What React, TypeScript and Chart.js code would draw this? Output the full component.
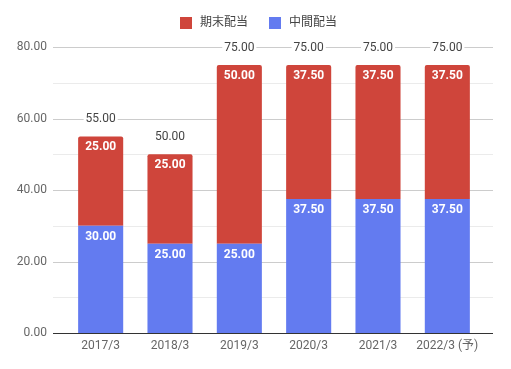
import React, { useEffect, useRef } from "react";
import { Chart, registerables } from "chart.js";

Chart.register(...registerables);

const categories = ["2017/3", "2018/3", "2019/3", "2020/3", "2021/3", "2022/3 (予)"];
const interim = [30, 25, 25, 37.5, 37.5, 37.5]; // 中間配当
const yearEnd = [25, 25, 50, 37.5, 37.5, 37.5]; // 期末配当
const yTicks = [0, 20, 40, 60, 80];

const RED = "#cf453b";
const BLUE = "#637bf0";
const FONT = "Roboto, 'Noto Sans CJK JP', sans-serif";

const gridPlugin = {
  id: "extGrid",
  beforeDatasetsDraw(chart: any) {
    const { ctx, chartArea, scales } = chart;
    const y = scales.y;
    const x0 = chartArea.left - 13;
    const x1 = chartArea.right + 11;
    ctx.save();
    for (let v = 10; v <= 80; v += 10) {
      const py = Math.round(y.getPixelForValue(v)) + 0.5;
      ctx.strokeStyle = v % 20 === 0 ? "#cccccc" : "#ebebeb";
      ctx.lineWidth = 1;
      ctx.beginPath();
      ctx.moveTo(x0, py);
      ctx.lineTo(x1, py);
      ctx.stroke();
    }
    ctx.restore();
  },
  afterDatasetsDraw(chart: any) {
    const { ctx, chartArea, scales } = chart;
    const y = scales.y;
    const x0 = chartArea.left - 13;
    const x1 = chartArea.right + 11;
    ctx.save();
    // axis line
    const py0 = Math.round(y.getPixelForValue(0)) + 0.5;
    ctx.strokeStyle = "#333333";
    ctx.lineWidth = 1;
    ctx.beginPath();
    ctx.moveTo(x0, py0);
    ctx.lineTo(x1, py0);
    ctx.stroke();

    // inner labels
    ctx.font = `bold 12px ${FONT}`;
    ctx.fillStyle = "#ffffff";
    ctx.textAlign = "center";
    ctx.textBaseline = "middle";
    chart.data.datasets.forEach((ds: any, di: number) => {
      const meta = chart.getDatasetMeta(di);
      meta.data.forEach((el: any, i: number) => {
        const val = ds.data[i] as number;
        ctx.fillText(val.toFixed(2), el.x, el.y + 11);
      });
    });

    // totals
    ctx.font = `12px ${FONT}`;
    const topMeta = chart.getDatasetMeta(1);
    topMeta.data.forEach((el: any, i: number) => {
      const total = interim[i] + yearEnd[i];
      const txt = total.toFixed(2);
      const w = ctx.measureText(txt).width;
      const ty = el.y - 17;
      ctx.fillStyle = "#ffffff";
      ctx.fillRect(el.x - w / 2 - 2, ty - 7, w + 4, 14);
      ctx.fillStyle = "#444444";
      ctx.fillText(txt, el.x, ty);
    });

    // legend
    const items = [
      { label: "期末配当", color: RED },
      { label: "中間配当", color: BLUE },
    ];
    ctx.font = `12px ${FONT}`;
    ctx.textAlign = "left";
    let lx = 180;
    const ly = 23;
    items.forEach((it) => {
      ctx.fillStyle = it.color;
      ctx.fillRect(lx, ly - 6, 12, 12);
      ctx.fillStyle = "#444444";
      ctx.fillText(it.label, lx + 20, ly);
      lx += 20 + ctx.measureText(it.label).width + 21;
    });
    ctx.restore();
  },
};

export default function App() {
  const ref = useRef<HTMLCanvasElement>(null);
  useEffect(() => {
    if (!ref.current) return;
    const chart = new Chart(ref.current, {
      type: "bar",
      data: {
        labels: categories,
        datasets: [
          {
            label: "中間配当",
            data: interim,
            backgroundColor: BLUE,
            borderRadius: 0,
            barPercentage: 0.65,
            categoryPercentage: 1,
          },
          {
            label: "期末配当",
            data: yearEnd,
            backgroundColor: RED,
            borderRadius: { topLeft: 2, topRight: 2, bottomLeft: 0, bottomRight: 0 },
            borderSkipped: "bottom",
            barPercentage: 0.65,
            categoryPercentage: 1,
          },
        ],
      },
      options: {
        responsive: false,
        animation: false,
        layout: { padding: { left: 0, top: 47, right: 29, bottom: 0 } },
        plugins: {
          legend: { display: false },
          tooltip: { enabled: false },
        },
        scales: {
          x: {
            stacked: true,
            grid: { display: false, drawTicks: false },
            border: { display: false },
            ticks: {
              color: "#666666",
              font: { family: FONT, size: 12 },
              padding: 6,
              maxRotation: 0,
              autoSkip: false,
            },
            afterFit: (s: any) => {
              s.height = 36;
            },
          },
          y: {
            stacked: true,
            min: 0,
            max: 80,
            grid: { display: false, drawTicks: false },
            border: { display: false },
            ticks: {
              stepSize: 20,
              color: "#666666",
              font: { family: FONT, size: 12 },
              padding: 19,
              callback: (v: any) => (yTicks.includes(Number(v)) ? Number(v).toFixed(2) : ""),
            },
            afterFit: (s: any) => {
              s.width = 66;
            },
          },
        },
      },
      plugins: [gridPlugin],
    });
    return () => chart.destroy();
  }, []);
  return (
    <div style={{ position: "fixed", left: 0, top: 0, width: 511, height: 369, background: "#fff" }}>
      <canvas ref={ref} width={511} height={369} style={{ display: "block" }} />
    </div>
  );
}
